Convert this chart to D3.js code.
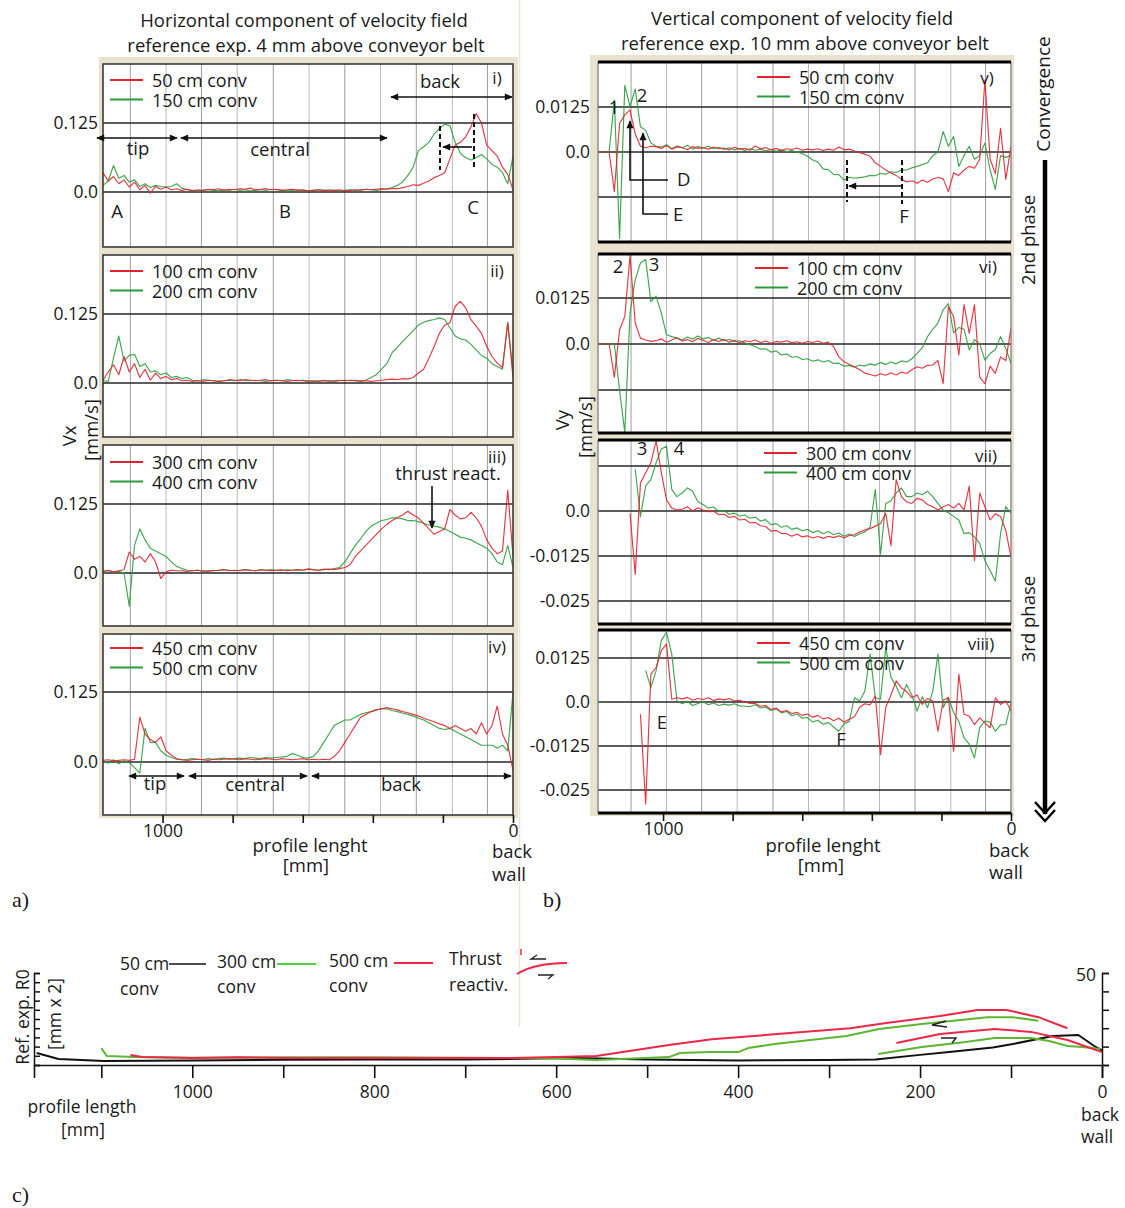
<!DOCTYPE html>
<html>
<head>
<meta charset="utf-8">
<script src="https://cdn.jsdelivr.net/npm/d3@7"></script>
<style>
  body { margin: 0; background: #fff; }
  svg text { font-family: "Open Sans", "Noto Sans", sans-serif; fill: #1a1a1a; }
</style>
</head>
<body>
<svg id="chart" width="1125" height="1208"></svg>
<script>
// ---------------------------------------------------------------------------
// Velocity profiles sampled every 15 mm along the profile (1185 mm → 0 mm,
// back wall at 0). Vx and Vy in mm/s; null = no measurement.
// ---------------------------------------------------------------------------
const profileStartMm = 1185;
const profileStepMm = 15;

// Horizontal component (4 mm above conveyor belt)
const vx50 = [
  0.030,0.035,0.020,0.028,0.015,0.022,0.009,0.018,0.004,0.012,
  -0.002,0.010,0.005,0.009,0.004,0.006,0.003,0.005,0.002,0.004,
  0.003,0.005,0.004,0.006,0.003,0.005,0.004,0.006,0.005,0.007,
  0.004,0.005,0.006,0.004,0.005,0.003,0.004,0.005,0.003,0.004,
  0.002,0.003,0.004,0.003,0.002,0.003,0.004,0.002,0.003,0.004,
  0.003,0.005,0.004,0.005,0.006,0.005,0.006,0.006,0.008,0.010,
  0.013,0.012,0.016,0.020,0.026,0.030,0.035,0.060,0.085,0.090,
  0.100,0.118,0.142,0.125,0.085,0.075,0.065,0.045,0.032,0.004];
const vx150 = [
  0.012,0.012,0.020,0.048,0.025,0.030,0.018,0.022,0.010,0.015,
  0.008,0.012,0.010,0.009,0.010,0.015,0.007,0.004,0.003,0.002,
  0.003,0.004,0.003,0.002,0.004,0.003,0.005,0.003,0.004,0.002,
  0.003,0.004,0.003,0.005,0.004,0.003,0.002,0.003,0.004,0.003,
  0.002,0.003,0.004,0.003,0.004,0.003,0.002,0.003,0.004,0.003,
  0.004,0.005,0.004,0.003,0.004,0.006,0.008,0.012,0.018,0.030,
  0.045,0.075,0.082,0.090,0.105,0.115,0.123,0.120,0.090,0.070,
  0.062,0.058,0.062,0.068,0.060,0.050,0.045,0.035,0.015,0.065];
const vx100 = [
  0.005,0.005,0.020,0.033,0.015,0.048,0.020,0.035,0.010,0.025,
  0.005,0.018,0.008,0.012,0.006,0.008,0.004,0.005,0.003,0.004,
  0.003,0.005,0.004,0.003,0.004,0.006,0.005,0.004,0.006,0.005,
  0.004,0.005,0.006,0.004,0.005,0.004,0.003,0.004,0.005,0.004,
  0.003,0.004,0.003,0.004,0.003,0.004,0.005,0.004,0.005,0.004,
  0.003,0.004,0.003,0.004,0.005,0.006,0.007,0.006,0.008,0.007,
  0.010,0.018,0.025,0.045,0.066,0.090,0.105,0.109,0.139,0.148,
  0.136,0.115,0.103,0.090,0.066,0.048,0.036,0.028,0.109,0.010];
const vx200 = [
  0.004,0.004,0.003,0.045,0.085,0.040,0.050,0.052,0.030,0.035,
  0.020,0.022,0.015,0.018,0.010,0.012,0.008,0.010,0.005,0.004,
  0.006,0.005,0.004,0.003,0.004,0.005,0.004,0.006,0.005,0.004,
  0.005,0.004,0.003,0.004,0.005,0.004,0.006,0.005,0.004,0.005,
  0.004,0.003,0.004,0.005,0.004,0.003,0.004,0.005,0.004,0.005,
  0.004,0.005,0.010,0.015,0.025,0.035,0.055,0.065,0.075,0.085,
  0.095,0.105,0.110,0.113,0.115,0.118,0.115,0.100,0.085,0.080,
  0.078,0.070,0.060,0.050,0.045,0.035,0.030,0.025,0.110,0.020];
const vx300 = [
  0.003,0.003,0.005,0.002,0.004,0.006,0.038,0.025,0.030,0.020,
  0.035,0.020,-0.010,0.002,0.005,0.004,0.004,0.003,0.004,0.005,
  0.004,0.003,0.004,0.005,0.006,0.004,0.005,0.004,0.006,0.005,
  0.004,0.006,0.005,0.004,0.005,0.006,0.004,0.005,0.006,0.005,
  0.007,0.006,0.005,0.006,0.007,0.006,0.008,0.010,0.015,0.030,
  0.040,0.050,0.060,0.070,0.080,0.088,0.095,0.100,0.105,0.112,
  0.105,0.100,0.090,0.080,0.070,0.075,0.080,0.115,0.105,0.098,
  0.100,0.110,0.100,0.085,0.060,0.045,0.035,0.040,0.150,0.030];
const vx400 = [
  0.003,0.003,0.004,0.002,0.003,0.000,-0.060,0.050,0.080,0.060,
  0.045,0.040,0.035,0.030,0.020,0.012,0.008,0.005,0.004,0.005,
  0.003,0.004,0.005,0.004,0.006,0.005,0.004,0.005,0.006,0.005,
  0.004,0.006,0.005,0.006,0.005,0.004,0.006,0.005,0.006,0.005,
  0.007,0.006,0.005,0.007,0.006,0.008,0.010,0.020,0.035,0.050,
  0.062,0.075,0.085,0.090,0.095,0.097,0.100,0.100,0.098,0.095,
  0.095,0.093,0.090,0.087,0.085,0.083,0.080,0.075,0.070,0.065,
  0.063,0.060,0.055,0.050,0.045,0.035,0.020,0.015,0.050,0.010];
const vx450 = [
  0.003,0.003,0.004,0.002,0.003,0.004,0.003,0.005,0.080,0.050,
  0.040,0.035,0.045,0.020,0.012,0.006,0.004,0.003,0.004,0.005,
  0.004,0.003,0.005,0.004,0.005,0.006,0.005,0.004,0.006,0.005,
  0.004,0.005,0.006,0.005,0.004,0.006,0.005,0.004,0.005,0.006,
  0.004,0.005,0.004,0.005,0.004,0.010,0.020,0.035,0.050,0.065,
  0.080,0.085,0.090,0.093,0.095,0.097,0.095,0.093,0.090,0.088,
  0.085,0.082,0.078,0.075,0.072,0.068,0.065,0.060,0.065,0.060,
  0.055,0.060,0.050,0.070,0.050,0.065,0.100,0.050,0.030,-0.015];
const vx500 = [
  0.002,0.002,-0.002,0.004,-0.003,0.002,-0.001,-0.010,-0.020,0.060,
  0.035,0.035,0.020,0.012,0.008,0.005,0.004,0.005,0.006,0.005,
  0.004,0.006,0.005,0.006,0.007,0.005,0.006,0.007,0.006,0.008,
  0.007,0.006,0.008,0.007,0.008,0.009,0.010,0.015,0.012,0.008,
  0.007,0.010,0.020,0.035,0.050,0.065,0.070,0.075,0.075,0.080,
  0.085,0.088,0.090,0.093,0.095,0.095,0.092,0.090,0.087,0.085,
  0.082,0.078,0.075,0.070,0.065,0.060,0.058,0.060,0.055,0.050,
  0.045,0.040,0.035,0.030,0.030,0.030,0.025,0.030,0.020,0.125];

// Vertical component (10 mm above conveyor belt)
const vy50 = [
  0,0,0,-0.011,0.008,0.0103,0.0117,0.005,0.0016,0.0012,
  0.0016,0.0015,0.001,0.0018,0.0008,0.0014,0.0012,0.0006,0.0015,0.001,
  0.0012,0.0008,0.0014,0.0009,0.0011,0.0006,0.0013,0.0008,0.001,0.0005,
  0.0017,0.0009,0.0012,0.0006,0.001,0.0004,0.0009,0.0007,0.0011,0.0005,
  0.0008,0.0006,0.0009,0.0004,0.0008,0.0005,0.0014,0.0006,0.0008,0.0003,
  -0.0002,-0.0006,-0.0012,-0.003,-0.004,-0.005,-0.0058,-0.0065,-0.0076,-0.0083,
  -0.008,-0.0087,-0.0078,-0.0084,-0.0075,-0.0071,-0.0074,-0.011,-0.0058,-0.0065,
  -0.005,-0.004,-0.0045,-0.002,0.02,-0.002,-0.006,0.0066,-0.0076,0.0016];
const vy150 = [
  0,0,0,0.0144,-0.024,0.0185,0.0126,0.0175,0.007,0.006,
  0.0025,0.0016,0.0014,0.002,0.0009,0.0017,0.0012,0.0019,0.0008,0.0015,
  0.0011,0.0016,0.0009,0.0013,0.0007,0.0012,0.0006,0.001,0.0004,0.0009,
  0.0005,0.0008,0.0003,0.0007,0.0002,0.0006,0.0001,0.0004,0,-0.0005,
  -0.0012,-0.0022,-0.0028,-0.0047,-0.0049,-0.0062,-0.0063,-0.0078,-0.007,-0.0073,
  -0.0071,-0.0069,-0.0065,-0.0066,-0.0059,-0.0062,-0.0055,-0.0057,-0.0049,-0.005,
  -0.0044,-0.004,-0.0035,-0.003,-0.001,0,0.0057,0.0016,0.0043,-0.004,
  -0.001,0.0016,-0.002,-0.001,0.0025,-0.005,-0.0104,-0.001,-0.0015,-0.001];
const vy100 = [
  0,0,0,-0.009,0.0038,0.0075,0.024,0.0057,0.0016,0.0011,
  0.0007,0.0009,0.0014,0.0005,0.0011,0.0017,0.0008,0.0012,0.0006,0.0015,
  0.001,0.0004,0.0012,0.0007,0.0013,0.0005,0.001,0.0003,0.0009,0.0006,
  0.0011,0.0004,0.0008,0.0002,0.0007,0.0005,0.0009,0.0003,0.0006,0.0002,
  0.0007,0.0004,0.0008,0.0002,0.0005,-0.0007,-0.0035,-0.0048,-0.0055,-0.0062,
  -0.007,-0.0079,-0.0083,-0.0087,-0.0081,-0.0085,-0.0078,-0.0084,-0.0076,-0.008,
  -0.007,-0.0062,-0.0066,-0.0058,-0.0057,-0.0045,-0.0108,0.0102,0.0075,-0.003,
  0.0107,0.0029,0.0107,-0.009,-0.0108,-0.006,-0.008,-0.0035,-0.0045,0.0043];
const vy200 = [
  0,0,0,0,-0.0126,-0.024,0.0084,0.0175,0.022,0.023,
  0.0115,0.013,0.0084,0.0025,0.002,0.0016,0.0011,0.0019,0.0013,0.0022,
  0.0014,0.0018,0.001,0.0016,0.0009,0.0013,0.0006,0.0009,0.0003,-0.0002,
  -0.0007,-0.0014,-0.0013,-0.0022,-0.0019,-0.003,-0.0027,-0.0036,-0.0034,-0.0042,
  -0.004,-0.0047,-0.0043,-0.0049,-0.0045,-0.0053,-0.0052,-0.006,-0.0058,-0.0063,
  -0.0057,-0.006,-0.0054,-0.0058,-0.005,-0.0056,-0.0049,-0.0054,-0.0046,-0.0049,
  -0.004,-0.0026,-0.001,0.002,0.004,0.0057,0.0093,0.011,0.003,0.0045,
  0.004,-0.0016,0.0012,0,-0.0044,-0.0026,-0.0015,0.002,-0.0012,-0.0053];
const vy300 = [
  null,null,null,null,null,null,-0.0007,-0.0176,0.0078,0.0106,
  0.0134,0.0195,0.0106,0.0031,0.0008,0.0003,0.0005,0.0012,0,0.0009,
  0.0003,-0.0002,-0.0001,-0.001,-0.0009,-0.0018,-0.0015,-0.0025,-0.0023,-0.0033,
  -0.0032,-0.0041,-0.0043,-0.0056,-0.0054,-0.0062,-0.0063,-0.007,-0.0064,-0.0072,
  -0.0069,-0.0075,-0.0071,-0.0076,-0.007,-0.0074,-0.0069,-0.0075,-0.0068,-0.0066,
  -0.0058,-0.0053,-0.0049,-0.0042,-0.0035,-0.0007,-0.0096,0.0087,0.004,0.0025,
  0.0021,0.0035,0.0031,0.0018,0.0012,0.0003,0.0012,0.0018,0.0008,0.0021,
  0.0003,0.0069,-0.0138,0.005,0.0012,-0.0025,-0.0008,-0.0015,-0.0054,-0.0129];
const vy400 = [
  null,null,null,null,null,null,null,0.0116,-0.0016,0.007,
  0.0087,0.0134,0.0172,0.018,0.006,0.004,0.005,0.0064,0.0055,0.0026,
  0.0018,0.0008,0.0011,-0.0001,0.0001,-0.0009,-0.0006,-0.0014,-0.0011,-0.002,
  -0.0017,-0.0028,-0.0024,-0.0038,-0.0035,-0.0045,-0.0041,-0.0051,-0.0047,-0.0055,
  -0.0051,-0.006,-0.0055,-0.0063,-0.0057,-0.0066,-0.0061,-0.007,-0.0064,-0.0071,
  -0.0063,-0.0058,-0.0044,0.006,-0.012,0.0021,0.0028,0.005,0.0064,0.004,
  0.004,0.005,0.0045,0.0055,0.004,0.0021,0.0003,-0.0005,-0.0015,-0.0025,
  -0.0063,-0.006,-0.0072,-0.009,-0.0138,-0.0165,-0.0195,-0.0063,0.0012,-0.0007];
const vy450 = [
  null,null,null,null,null,null,null,null,-0.0035,-0.029,
  0.0079,0.0098,0.0146,0.0165,0.0008,0.0012,0.0009,0.0013,0.0005,0.001,
  0.0007,0.0012,0.0004,0.0009,0.0006,0.001,0.0003,0.0005,0,-0.0004,
  -0.0004,-0.0012,-0.001,-0.0021,-0.0017,-0.0028,-0.0024,-0.0033,-0.0029,-0.0038,
  -0.0034,-0.0043,-0.0038,-0.0048,-0.0044,-0.0053,-0.0046,-0.0057,-0.0049,-0.0042,
  -0.0015,-0.0005,-0.0008,0.0017,-0.015,-0.0015,0.002,0.006,0.004,0.003,
  0.0012,0.002,-0.0007,0.001,0.0003,-0.0083,0.0005,0.0013,-0.014,0.0079,
  -0.0035,-0.004,-0.0064,-0.0045,-0.006,-0.0073,0.0012,-0.0007,0.0003,-0.0025];
const vy500 = [
  0,0,null,null,null,null,null,null,null,0.0089,
  0.0041,0.0089,0.0175,0.0198,0.0136,0.0003,-0.0005,0.0002,-0.001,-0.0004,
  0.0001,-0.0008,-0.0003,-0.001,-0.0006,-0.0009,-0.0005,-0.0011,-0.0012,-0.0013,
  -0.0008,-0.0017,-0.0014,-0.0024,-0.002,-0.0031,-0.0027,-0.0039,-0.0034,-0.0046,
  -0.0044,-0.0057,-0.0052,-0.0063,-0.0058,-0.0071,-0.0083,-0.0062,-0.0055,0.0012,
  0.0003,0.0031,0.0136,0.0012,0.0008,0.0155,0.007,0.0045,0.0012,0.005,
  0.002,-0.0026,0.0015,-0.0016,0.003,0.0136,-0.0016,0.0012,-0.003,-0.0055,
  -0.0102,-0.012,-0.0159,-0.0073,-0.0054,-0.0057,-0.0083,-0.0065,-0.0064,-0.0003];

// Reference grid positions along the profile (mm)
const profileGridMm = [1092, 990, 889, 787, 684, 582, 480, 378, 276, 173, 73];
const profileTicksMm = [1000, 800, 600, 400, 200, 0];

// Surface of the reference experiment R0 (profile mm, height in mm x 2)
const surface50 = [[1171,6.5],[1147,3.3],[1097,2.2],[1000,2.5],[900,2.8],[800,3],[700,3],
  [620,3.5],[580,3.8],[500,3],[400,2.5],[300,2.7],[249,3],[200,5.5],[168,7],[120,9.5],
  [98,11.4],[54,15.8],[26,16.3],[7,9.8],[0,8]];
const surface300 = [[1100,9.2],[1094,4.9],[1063,4.3],[1000,4],[900,4.2],[800,4.2],[700,4],
  [600,3.5],[556,2.7],[476,4.3],[464,6.5],[432,7],[400,7],[389,9.2],[360,11.4],[281,15.8],
  [245,19.6],[198,22.3],[126,26],[98,26],[70,24]];
const surface300Thrust = [[246,6],[198,9.8],[150,12.5],[118,14.7],[78,14.7],[58,13],[38,10.3],[22,9.8],[2,8.7]];
const surface500 = [[1068,5.4],[1055,4.3],[1000,3.8],[950,4.2],[900,3.8],[800,3.8],[700,3.8],
  [650,3.8],[600,4.3],[556,4.9],[476,10.9],[429,14],[357,16.8],[277,20],[237,22.8],
  [178,26.6],[137,29.9],[105,29.9],[70,26],[38,20]];
const surface500Thrust = [[226,12],[178,16.8],[118,19.6],[78,18],[38,13.6],[0,7]];

// Legend / label text
const vxLegends = [["50 cm conv","150 cm conv"],["100 cm conv","200 cm conv"],
                   ["300 cm conv","400 cm conv"],["450 cm conv","500 cm conv"]];
const vyLegends = vxLegends;
const vxRoman = ["i)","ii)","iii)","iv)"];
const vyRoman = ["v)","vi)","vii)","viii)"];

// ---------------------------------------------------------------------------
const svg = d3.select("#chart");
const RED = "#e1222f", GREEN = "#2a9c3b", BEIGE = "#e8e2cf";
const FS = 18.5, TICK_FS = 17.5, C_FS = 17.5;
const profileMm = vx50.map((_, j) => profileStartMm - profileStepMm * j);

const defs = svg.append("defs");
defs.append("marker").attr("id", "head")
  .attr("viewBox", "0 0 10 10").attr("refX", 9).attr("refY", 5)
  .attr("markerWidth", 9).attr("markerHeight", 8)
  .attr("markerUnits", "userSpaceOnUse").attr("orient", "auto-start-reverse")
  .append("path").attr("d", "M0,0.5 L10,5 L0,9.5 Z").attr("fill", "#111");

function label(x, y, s, o = {}) {
  const t = svg.append("text").attr("x", x).attr("y", y).text(s)
    .attr("font-size", o.size || FS)
    .attr("text-anchor", o.anchor || "start");
  if (o.rotate) t.attr("transform", `rotate(${o.rotate},${x},${y})`);
  if (o.baseline) t.attr("dominant-baseline", o.baseline);
  if (o.family) t.style("font-family", o.family);
  return t;
}
function arrow(x1, y1, x2, y2, both) {
  const l = svg.append("line").attr("x1", x1).attr("y1", y1).attr("x2", x2).attr("y2", y2)
    .attr("stroke", "#111").attr("stroke-width", 1.6).attr("marker-end", "url(#head)");
  if (both) l.attr("marker-start", "url(#head)");
}
function pathArrow(d) {
  svg.append("path").attr("d", d).attr("fill", "none").attr("stroke", "#111")
    .attr("stroke-width", 1.6).attr("marker-end", "url(#head)");
}
function dashed(x, y1, y2) {
  svg.append("line").attr("x1", x).attr("x2", x).attr("y1", y1).attr("y2", y2)
    .attr("stroke", "#111").attr("stroke-width", 2).attr("stroke-dasharray", "5,3");
}

// separator between the two columns
svg.append("line").attr("x1", 519.5).attr("x2", 519.5).attr("y1", 0).attr("y2", 1027)
  .attr("stroke", "#ebe6d6").attr("stroke-width", 1.5);

// ---------------------------------------------------------------------------
// Panel drawing
function drawPanel(p) {
  const g = svg.append("g");
  const x = p.x;
  const [x0, x1] = x.range();
  const y = d3.scaleLinear().domain([0, p.unit]).range([p.y0, p.y1]);
  g.append("rect").attr("x", x0).attr("y", p.top).attr("width", x1 - x0)
    .attr("height", p.bottom - p.top).attr("fill", "#fff");
  const id = "clip" + p.key;
  defs.append("clipPath").attr("id", id).append("rect")
    .attr("x", x0).attr("y", p.top).attr("width", x1 - x0).attr("height", p.bottom - p.top);

  g.selectAll(".vg").data(profileGridMm).join("line")
    .attr("x1", d => x(d)).attr("x2", d => x(d)).attr("y1", p.top).attr("y2", p.bottom)
    .attr("stroke", (d, i) => i % 2 ? "#b9b9b9" : "#9d9d9d").attr("stroke-width", 1);
  g.selectAll(".hg").data(p.grid).join("line")
    .attr("x1", x0).attr("x2", x1).attr("y1", d => y(d)).attr("y2", d => y(d))
    .attr("stroke", "#262626").attr("stroke-width", 1.6);

  const line = d3.line().defined(d => d.v !== null).x(d => x(d.mm)).y(d => y(d.v));
  const series = [[p.green, GREEN], [p.red, RED]];
  series.forEach(([vals, col]) => {
    g.append("path").datum(vals.map((v, j) => ({ mm: profileMm[j], v })))
      .attr("clip-path", `url(#${id})`)
      .attr("d", line).attr("fill", "none").attr("stroke", col)
      .attr("stroke-width", 1.15).attr("stroke-opacity", 0.9).attr("stroke-linejoin", "round");
  });

  // frame
  if (p.side === "left") {
    g.append("rect").attr("x", x0).attr("y", p.top).attr("width", x1 - x0)
      .attr("height", p.bottom - p.top).attr("fill", "none")
      .attr("stroke", "#3a3a3a").attr("stroke-width", 1.6);
  } else {
    g.append("line").attr("x1", x0).attr("x2", x0).attr("y1", p.top).attr("y2", p.bottom)
      .attr("stroke", "#777").attr("stroke-width", 1.2);
    g.append("line").attr("x1", x1).attr("x2", x1).attr("y1", p.top).attr("y2", p.bottom)
      .attr("stroke", "#777").attr("stroke-width", 1.2);
    [p.top, p.bottom].forEach(yy => g.append("line").attr("x1", x0).attr("x2", x1)
      .attr("y1", yy).attr("y2", yy).attr("stroke", "#000").attr("stroke-width", 3.2));
  }

  // value axis labels
  const ax = d3.axisLeft(y).tickValues(p.ticks.map(t => t[0])).tickSize(0)
    .tickPadding(p.side === "left" ? 5 : 8)
    .tickFormat(v => p.ticks.find(t => t[0] === v)[1]);
  const axg = svg.append("g").attr("transform", `translate(${x0},0)`).call(ax);
  axg.select(".domain").remove();
  axg.selectAll("text").attr("font-size", TICK_FS).style("font-family", '"Open Sans", sans-serif').attr("fill", "#1a1a1a");

  // legend
  p.legend.forEach((s, i) => {
    const ly = p.legendY + i * 19.5;
    svg.append("line").attr("x1", p.legendX).attr("x2", p.legendX + 33)
      .attr("y1", ly).attr("y2", ly).attr("stroke", i ? GREEN : RED).attr("stroke-width", 2);
    label(p.legendX + 42, ly, s, { baseline: "central", size: 18 });
  });
  label(p.romanX, p.romanY, p.roman, { anchor: "middle", baseline: "central", size: 17 });
  return y;
}

// ---------------------------------------------------------------------------
// (a) horizontal component
const xLeft = d3.scaleLinear().domain([1170, 0]).range([103, 513]);
svg.append("rect").attr("x", 99).attr("y", 57).attr("width", 419).attr("height", 761).attr("fill", BEIGE);

const leftLayout = [
  { top: 64, bottom: 247, y0: 192, y1: 123, legendY: 80, romanY: 77 },
  { top: 255, bottom: 437, y0: 383, y1: 314, legendY: 271, romanY: 270 },
  { top: 445, bottom: 626, y0: 573, y1: 504, legendY: 462, romanY: 456 },
  { top: 634, bottom: 815, y0: 762, y1: 692, legendY: 648, romanY: 646 }
];
const vxPairs = [[vx50, vx150], [vx100, vx200], [vx300, vx400], [vx450, vx500]];
leftLayout.forEach((L, k) => drawPanel(Object.assign({
  key: "L" + k, side: "left", x: xLeft, unit: 0.125,
  grid: [0.125, 0], ticks: [[0.125, "0.125"], [0, "0.0"]],
  red: vxPairs[k][0], green: vxPairs[k][1], legend: vxLegends[k],
  legendX: 110, roman: vxRoman[k], romanX: 497
}, L)));

// (b) vertical component
const xRight = d3.scaleLinear().domain([1187, 0]).range([598, 1011]);
svg.append("rect").attr("x", 590).attr("y", 55).attr("width", 424).attr("height", 761).attr("fill", BEIGE);
const rightLayout = [
  { top: 62, bottom: 242, y0: 152, y1: 107, legendY: 77, legendX: 757, romanX: 987, romanY: 77,
    grid: [0.0125, 0, -0.0125], ticks: [[0.0125, "0.0125"], [0, "0.0"]] },
  { top: 254, bottom: 433, y0: 344, y1: 298, legendY: 268, legendX: 755, romanX: 988, romanY: 266,
    grid: [0.0125, 0, -0.0125], ticks: [[0.0125, "0.0125"], [0, "0.0"]] },
  { top: 440, bottom: 624, y0: 511, y1: 466, legendY: 453, legendX: 764, romanX: 986, romanY: 455,
    grid: [0.0125, 0, -0.0125, -0.025], ticks: [[0, "0.0"], [-0.0125, "-0.0125"], [-0.025, "-0.025"]] },
  { top: 630, bottom: 813, y0: 702, y1: 658, legendY: 643, legendX: 757, romanX: 981, romanY: 643,
    grid: [0.0125, 0, -0.0125, -0.025], ticks: [[0.0125, "0.0125"], [0, "0.0"], [-0.0125, "-0.0125"], [-0.025, "-0.025"]] }
];
const vyPairs = [[vy50, vy150], [vy100, vy200], [vy300, vy400], [vy450, vy500]];
rightLayout.forEach((L, k) => drawPanel(Object.assign({
  key: "R" + k, side: "right", x: xRight, unit: 0.0125,
  red: vyPairs[k][0], green: vyPairs[k][1], legend: vyLegends[k],
  roman: vyRoman[k]
}, L)));

// profile axes under both columns
function profileAxis(x, yy) {
  const a = d3.axisBottom(x).tickValues(profileTicksMm).tickSize(8).tickPadding(2)
    .tickFormat(d => (d === 1000 || d === 0) ? String(d) : "");
  const g = svg.append("g").attr("transform", `translate(0,${yy})`).call(a);
  g.select(".domain").remove();
  g.selectAll("line").attr("stroke", "#111").attr("stroke-width", 1.6);
  g.selectAll("text").attr("font-size", TICK_FS).style("font-family", '"Open Sans", sans-serif').attr("fill", "#1a1a1a");
}
profileAxis(xLeft, 815);
profileAxis(xRight, 813);

// ---------------------------------------------------------------------------
// Titles and axis names
label(304, 27, "Horizontal component of velocity field", { anchor: "middle" });
label(306, 52, "reference exp. 4 mm above conveyor belt", { anchor: "middle" });
label(802, 25, "Vertical component of velocity field", { anchor: "middle" });
label(805, 50, "reference exp. 10 mm above conveyor belt", { anchor: "middle" });

label(68, 436, "Vx", { anchor: "middle", baseline: "central", rotate: -90 });
label(90, 430, "[mm/s]", { anchor: "middle", baseline: "central", rotate: -90 });
label(561, 420, "Vy", { anchor: "middle", baseline: "central", rotate: -90 });
label(584, 427, "[mm/s]", { anchor: "middle", baseline: "central", rotate: -90 });

label(310, 852, "profile lenght", { anchor: "middle" });
label(306, 872, "[mm]", { anchor: "middle" });
label(512, 858, "back", { anchor: "middle" });
label(509, 881, "wall", { anchor: "middle" });
label(823, 852, "profile lenght", { anchor: "middle" });
label(821, 872, "[mm]", { anchor: "middle" });
label(1009, 857, "back", { anchor: "middle" });
label(1006, 879, "wall", { anchor: "middle" });

const serif = '"Liberation Serif", "DejaVu Serif", serif';
label(12, 907, "a)", { size: 22, family: serif });
label(543, 907, "b)", { size: 22, family: serif });
label(12, 1202, "c)", { size: 22, family: serif });

// ---------------------------------------------------------------------------
// Annotations (a)
label(440, 88, "back", { anchor: "middle" });
arrow(391, 97, 512, 97, true);
arrow(97, 138, 177, 138, true);
label(138, 155, "tip", { anchor: "middle" });
arrow(181, 138, 387, 138, true);
label(280, 156, "central", { anchor: "middle" });
label(117, 218, "A", { anchor: "middle" });
label(285, 218, "B", { anchor: "middle" });
label(473, 214, "C", { anchor: "middle" });
dashed(440, 126, 170);
dashed(474, 114, 170);
arrow(472, 147, 443, 147);

label(448, 480, "thrust react.", { anchor: "middle" });
arrow(432, 486, 432, 528);

arrow(129, 776, 184, 776, true);
label(155, 790, "tip", { anchor: "middle" });
arrow(189, 776, 307, 776, true);
label(255, 791, "central", { anchor: "middle" });
arrow(312, 776, 511, 776, true);
label(401, 791, "back", { anchor: "middle" });

// Annotations (b)
label(614, 114, "1", { anchor: "middle" });
label(642, 102, "2", { anchor: "middle" });
pathArrow("M668,180 H630 V121");
pathArrow("M668,214 H643 V133");
label(677, 186, "D");
label(673, 221, "E");
dashed(847, 160, 202);
dashed(902, 160, 204);
arrow(901, 186, 849, 186);
label(904, 223, "F", { anchor: "middle" });

label(618, 273, "2", { anchor: "middle" });
label(654, 271, "3", { anchor: "middle" });
label(642, 455, "3", { anchor: "middle" });
label(679, 455, "4", { anchor: "middle" });
label(662, 729, "E", { anchor: "middle" });
label(841, 746, "F", { anchor: "middle" });

// Convergence arrow
label(1043, 94, "Convergence", { anchor: "middle", baseline: "central", rotate: -90, size: 19 });
label(1027, 240, "2nd phase", { anchor: "middle", baseline: "central", rotate: -90 });
label(1027, 619, "3rd phase", { anchor: "middle", baseline: "central", rotate: -90 });
svg.append("line").attr("x1", 1045).attr("x2", 1045).attr("y1", 160).attr("y2", 814)
  .attr("stroke", "#000").attr("stroke-width", 4.5);
[0, 8].forEach(dy => svg.append("polyline")
  .attr("points", `1035,${802 + dy} 1045,${813 + dy} 1055,${802 + dy}`)
  .attr("fill", "none").attr("stroke", "#000").attr("stroke-width", 2.4));

// ---------------------------------------------------------------------------
// (c) surface profiles of the reference experiment
const xc = d3.scaleLinear().domain([1174, 0]).range([34, 1102]);
const yc = d3.scaleLinear().domain([0, 50]).range([1065, 973]);

const cBottom = d3.axisBottom(xc).tickValues(d3.range(1100, -1, -100)).tickSize(13).tickPadding(8)
  .tickFormat(d => d % 200 === 0 ? String(d) : "");
const cb = svg.append("g").attr("transform", "translate(0,1065)").call(cBottom);
cb.select(".domain").attr("stroke", "#111").attr("stroke-width", 1.6);
cb.selectAll("line").attr("stroke", "#111").attr("stroke-width", 1.6);
cb.selectAll("text").attr("font-size", C_FS).style("font-family", '"Open Sans", sans-serif').attr("fill", "#1a1a1a");

const cLeft = d3.axisRight(yc).tickValues(d3.range(0, 51, 5)).tickSize(6).tickFormat("");
const cl = svg.append("g").attr("transform", `translate(${xc(1174)},0)`).call(cLeft);
cl.selectAll("path,line").attr("stroke", "#111").attr("stroke-width", 1.5);
const cRight = d3.axisRight(yc).tickValues(d3.range(0, 51, 10)).tickSize(7).tickFormat("");
const cr = svg.append("g").attr("transform", `translate(${xc(0)},0)`).call(cRight);
cr.selectAll("path,line").attr("stroke", "#111").attr("stroke-width", 1.5);
label(1096, 981, "50", { anchor: "end", size: C_FS });

const cLine = d3.line().x(d => xc(d[0])).y(d => yc(d[1]));
const cSeries = [[surface50, "#111"], [surface300, "#5cb533"], [surface300Thrust, "#5cb533"],
                 [surface500, "#ec2748"], [surface500Thrust, "#ec2748"]];
cSeries.forEach(([pts, col]) => svg.append("path")
  .datum(pts.slice().sort((a, b) => b[0] - a[0]))
  .attr("d", cLine).attr("fill", "none").attr("stroke", col)
  .attr("stroke-width", 2).attr("stroke-linejoin", "round"));

// half-arrow fault symbols on the thrust
svg.append("path").attr("d", "M946,1021 L932,1025 L947,1027").attr("fill", "none").attr("stroke", "#222").attr("stroke-width", 1.5);
svg.append("path").attr("d", "M941,1038 L956,1038 L952,1043").attr("fill", "none").attr("stroke", "#222").attr("stroke-width", 1.5);

label(22, 1017, "Ref. exp. R0", { anchor: "middle", baseline: "central", rotate: -90, size: C_FS });
label(54, 1014, "[mm x 2]", { anchor: "middle", baseline: "central", rotate: -90, size: C_FS });
label(82, 1113, "profile length", { anchor: "middle", size: C_FS });
label(83, 1136, "[mm]", { anchor: "middle", size: C_FS });
label(1100, 1121, "back", { anchor: "middle", size: C_FS });
label(1097, 1143, "wall", { anchor: "middle", size: C_FS });

// legend (c)
label(120, 970, "50 cm", { size: C_FS });
label(120, 995, "conv", { size: C_FS });
svg.append("line").attr("x1", 169).attr("x2", 206).attr("y1", 964).attr("y2", 964).attr("stroke", "#111").attr("stroke-width", 1.6);
label(217, 968, "300 cm", { size: C_FS });
label(217, 993, "conv", { size: C_FS });
svg.append("line").attr("x1", 277).attr("x2", 316).attr("y1", 964).attr("y2", 964).attr("stroke", "#4fd63a").attr("stroke-width", 1.8);
label(329, 967, "500 cm", { size: C_FS });
label(329, 992, "conv", { size: C_FS });
svg.append("line").attr("x1", 394).attr("x2", 433).attr("y1", 963).attr("y2", 963).attr("stroke", "#ec2748").attr("stroke-width", 1.8);
label(449, 965, "Thrust", { size: C_FS });
label(449, 991, "reactiv.", { size: C_FS });
svg.append("path").attr("d", "M517,974 Q535,963 567,963").attr("fill", "none").attr("stroke", "#ec2748").attr("stroke-width", 2);
svg.append("path").attr("d", "M546,959 L531,959 L537,955").attr("fill", "none").attr("stroke", "#222").attr("stroke-width", 1.3);
svg.append("path").attr("d", "M538,975 L553,975 L548,979").attr("fill", "none").attr("stroke", "#222").attr("stroke-width", 1.3);
svg.append("line").attr("x1", 521).attr("x2", 521).attr("y1", 949).attr("y2", 955).attr("stroke", "#ec2748").attr("stroke-width", 1.5);
</script>
</body>
</html>
